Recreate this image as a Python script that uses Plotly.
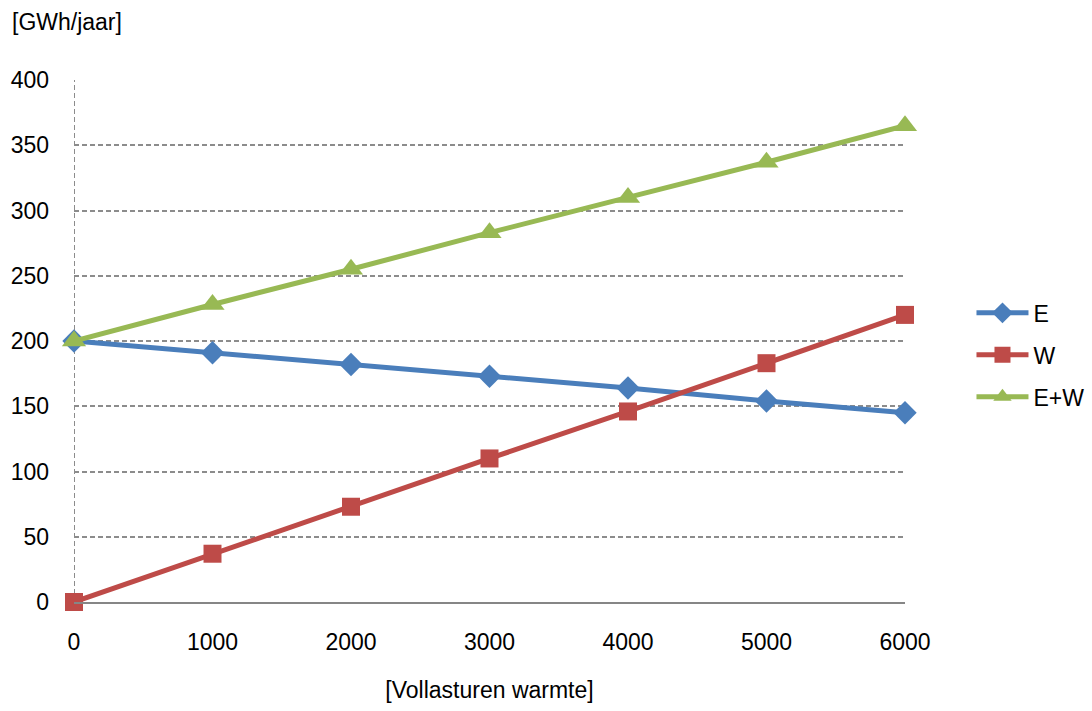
import plotly.graph_objects as go

# Full-load hours of heat and the resulting annual energy
vollasturen = [0, 1000, 2000, 3000, 4000, 5000, 6000]
e_values = [200, 191, 182, 173, 164, 154, 145]
w_values = [0, 37, 73, 110, 146, 183, 220]
ew_values = [200, 228, 255, 283, 310, 337, 365]
y_ticks = [0, 50, 100, 150, 200, 250, 300, 350, 400]

font = dict(family="Liberation Sans, Arial, sans-serif", size=23, color="#000000")

fig = go.Figure()
series = [
    ("E", e_values, "#4a7ebb", "diamond", 18),
    ("W", w_values, "#be4b48", "square", 18),
    ("E+W", ew_values, "#98b954", "triangle-up", 21),
]
for name, vals, color, symbol, size in series:
    fig.add_trace(go.Scatter(
        x=vollasturen, y=vals, name=name, legendgroup=name, mode="lines+markers",
        line=dict(color=color, width=5),
        marker=dict(symbol=symbol, size=size, color=color, line=dict(width=0)),
        cliponaxis=False,
    ))

# dashed left edge of the plot area
fig.add_shape(type="line", xref="x", yref="y", x0=0, x1=0, y0=0, y1=400,
              line=dict(color="#8c8c8c", width=2, dash="5px,3px"), layer="below")

fig.update_layout(
    width=1092, height=711,
    margin=dict(l=74, r=187, t=80, b=109, autoexpand=False),
    paper_bgcolor="white", plot_bgcolor="white",
    font=font,
    showlegend=True,
    legend=dict(x=1.08, y=0.595, xanchor="left", yanchor="top",
                font=dict(size=23), traceorder="grouped", tracegroupgap=9,
                itemwidth=52, bgcolor="rgba(0,0,0,0)"),
    xaxis=dict(range=[0, 6000], tickvals=vollasturen, showgrid=False,
               zeroline=False, showline=True, linecolor="#868686", linewidth=2,
               ticks="", ticklabelstandoff=18, automargin=False,
               title=dict(text="[Vollasturen warmte]", standoff=28, font=dict(size=23))),
    yaxis=dict(range=[0, 400], tickvals=y_ticks, showgrid=True,
               gridcolor="#8c8c8c", gridwidth=2, griddash="5px,3px", automargin=False,
               zeroline=False, showline=False, ticks="", ticklabelstandoff=24),
    annotations=[dict(text="[GWh/jaar]", xref="paper", yref="paper",
                      x=(10 - 74) / (1092 - 74 - 187), y=1 + (80 - 22) / (711 - 80 - 109),
                      xanchor="left", yanchor="middle", showarrow=False,
                      font=dict(size=23))],
)

fig.write_html("out.html")
